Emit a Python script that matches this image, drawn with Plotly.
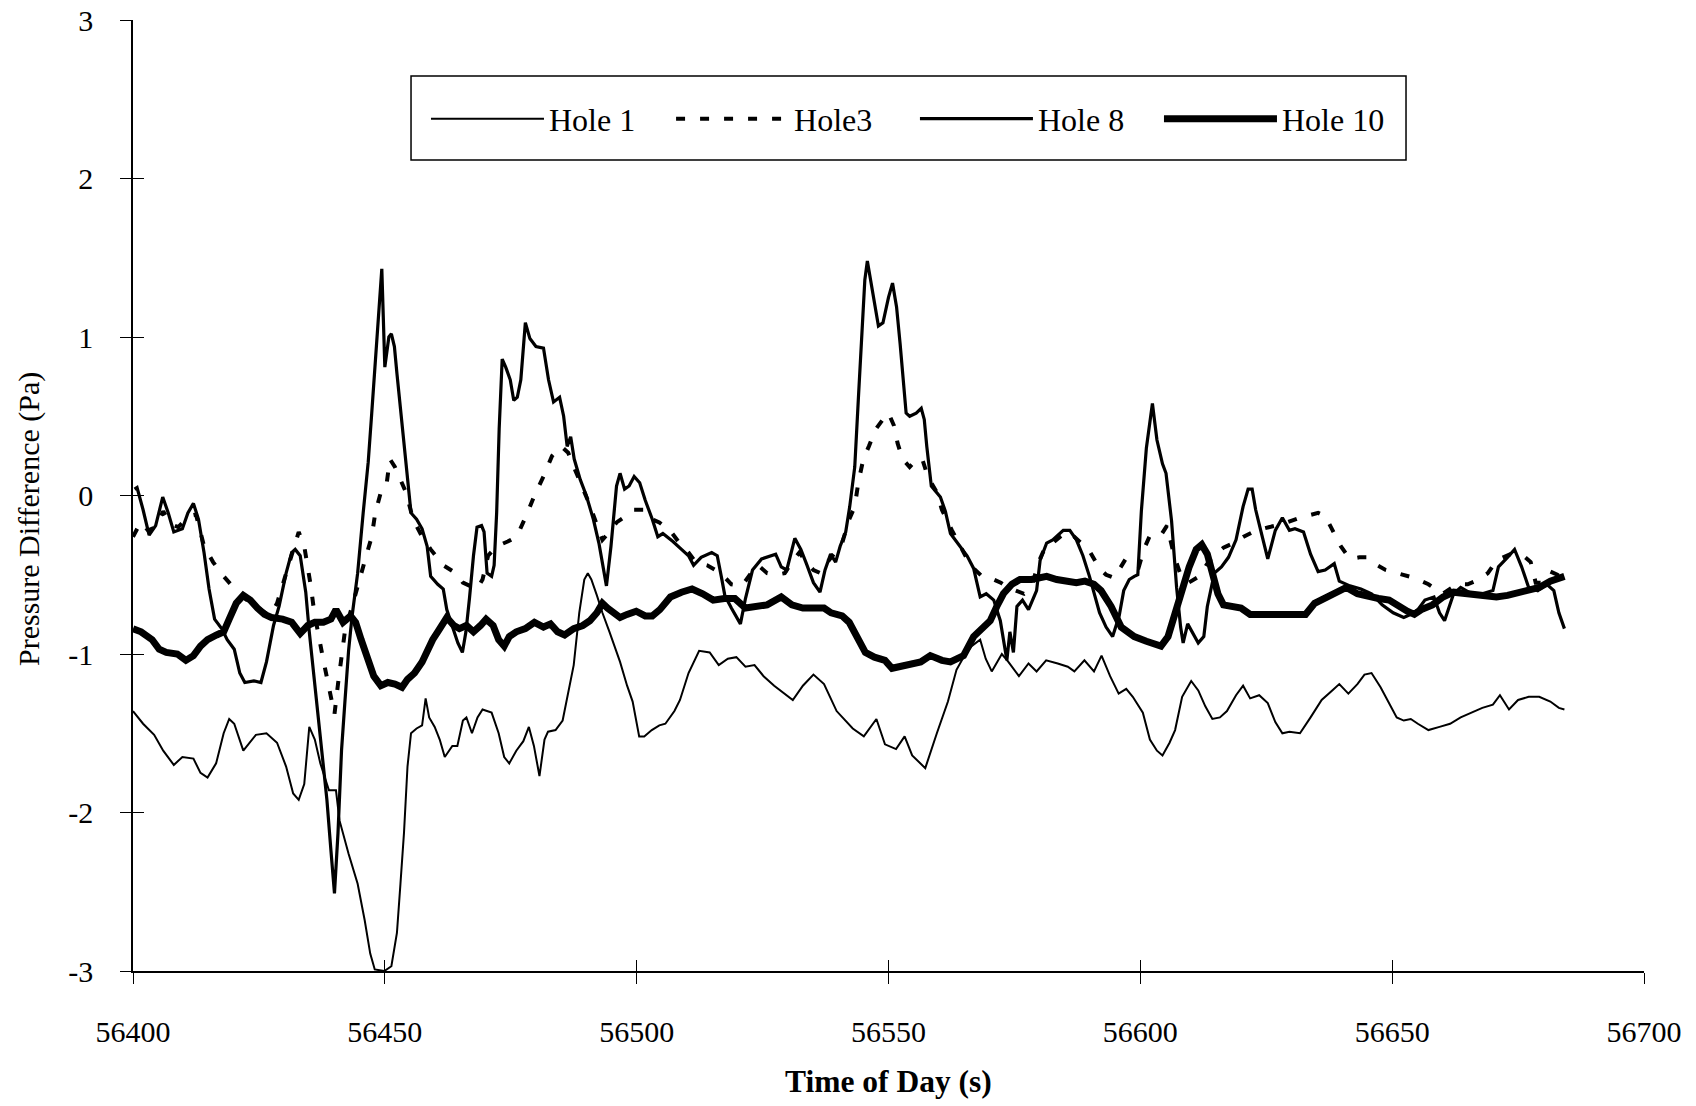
import plotly.graph_objects as go

# ---------------- data ----------------
hole1_t = [56400, 56402, 56404.2, 56406, 56408.1, 56409.8, 56412, 56413.4, 56414.8, 56416.5, 56418, 56419.1,
           56420.1, 56421.9, 56424.4, 56426.5, 56428.6, 56430.4, 56431.8, 56432.9, 56434, 56435, 56436.1, 56437.2,
           56438.2, 56438.9, 56440.3, 56441, 56442.8, 56444.6, 56446, 56447.1, 56448, 56449.9, 56451.3, 56452.4,
           56453.1, 56453.8, 56454.5, 56455.2, 56456.3, 56457.4, 56458.1, 56458.8, 56459.9, 56460.9, 56461.9,
           56463.4, 56464.4, 56465.5, 56466.2, 56467.3, 56468.4, 56469.4, 56471.2, 56472.6, 56473.7, 56474.7,
           56476.1, 56477.5, 56478.6, 56479.6, 56480.7, 56481.7, 56482.4, 56483.9, 56485.3, 56486.6, 56487.5,
           56488.6, 56489.6, 56490.3, 56491, 56492.1, 56493.2, 56494.6, 56495.6, 56496.7, 56498.1, 56499.2,
           56500.5, 56501.5, 56503, 56504.5, 56505.7, 56507.5, 56508.6, 56510.3, 56512.4, 56514.5, 56516.3,
           56518.1, 56519.8, 56521.6, 56523.4, 56525.2, 56527.3, 56529, 56531, 56533, 56535.1, 56537.2, 56539.7,
           56542.9, 56545.1, 56547.6, 56549.3, 56551.5, 56553.2, 56554.7, 56557.3, 56559.6, 56561.8, 56563.5,
           56564.9, 56566.5, 56568.2, 56569.3, 56570.5, 56572.5, 56573.8, 56575.9, 56577.8, 56579.4, 56581.3,
           56583.6, 56585.6, 56586.9, 56588.9, 56590.8, 56592.3, 56594, 56595.7, 56597.2, 56598.5, 56600.5,
           56601.9, 56603.3, 56604.4, 56605.8, 56606.9, 56608.3, 56610.1, 56611.5, 56612.9, 56614.3, 56615.8,
           56617.2, 56619, 56620.4, 56621.8, 56623.6, 56625.3, 56626.8, 56628.2, 56629.6, 56631.7, 56633.8,
           56636, 56638.1, 56639.5, 56641.3, 56643.1, 56644.5, 56645.9, 56647.7, 56649.4, 56650.9, 56652.3,
           56653.7, 56655.1, 56657.2, 56659.4, 56661.5, 56663.6, 56665.8, 56667.9, 56670, 56671.4, 56673.2,
           56675, 56677.1, 56679.2, 56681.4, 56683.1, 56684.2]
hole1_v = [-1.36, -1.44, -1.51, -1.61, -1.70, -1.65, -1.66, -1.75, -1.78, -1.69, -1.50, -1.41,
           -1.44, -1.61, -1.51, -1.50, -1.56, -1.71, -1.88, -1.92, -1.82, -1.46, -1.54, -1.69,
           -1.79, -1.86, -1.86, -2.05, -2.26, -2.45, -2.68, -2.89, -2.99, -3.00, -2.97, -2.76,
           -2.45, -2.13, -1.71, -1.50, -1.47, -1.45, -1.28, -1.40, -1.46, -1.54, -1.65,
           -1.58, -1.58, -1.42, -1.40, -1.50, -1.40, -1.35, -1.37, -1.50, -1.65, -1.69,
           -1.61, -1.55, -1.46, -1.58, -1.77, -1.54, -1.49, -1.48, -1.42, -1.22, -1.07,
           -0.74, -0.53, -0.49, -0.53, -0.63, -0.74, -0.86, -0.95, -1.05, -1.20, -1.30,
           -1.52, -1.52, -1.48, -1.45, -1.44, -1.36, -1.29, -1.12, -0.98, -0.99, -1.07,
           -1.03, -1.02, -1.08, -1.07, -1.14, -1.20, -1.24, -1.29, -1.20, -1.13, -1.19, -1.36,
           -1.47, -1.52, -1.41, -1.57, -1.60, -1.52, -1.64, -1.72, -1.50, -1.30, -1.10,
           -1.02, -0.95, -0.91, -1.03, -1.11, -1.00, -1.05, -1.14, -1.06, -1.11, -1.04,
           -1.06, -1.08, -1.11, -1.04, -1.11, -1.01, -1.14, -1.25, -1.22, -1.27, -1.37,
           -1.54, -1.61, -1.64, -1.56, -1.48, -1.27, -1.17, -1.23, -1.33, -1.41, -1.40,
           -1.36, -1.26, -1.20, -1.28, -1.26, -1.31, -1.43, -1.50, -1.49, -1.50, -1.40,
           -1.29, -1.23, -1.19, -1.25, -1.19, -1.13, -1.12, -1.21, -1.31, -1.40, -1.42,
           -1.41, -1.44, -1.48, -1.46, -1.44, -1.40, -1.37, -1.34, -1.32, -1.26, -1.35,
           -1.29, -1.27, -1.27, -1.30, -1.34, -1.35]

hole3_t = [56400, 56401.5, 56403, 56404.5, 56406, 56407.5, 56409, 56411, 56412.5, 56414.1, 56415.9, 56418,
           56420.5, 56422.2, 56424.5, 56427.2, 56428.6, 56430, 56431.5, 56432.9, 56434, 56434.7, 56435.3,
           56436, 56436.8, 56437.8, 56438.9, 56440, 56440.7, 56441.4, 56442.1, 56443.5, 56444.9, 56446.3,
           56447.4, 56448.1, 56449.2, 56450.3, 56451, 56452, 56453.1, 56454.2, 56455.6, 56457.4, 56459.1,
           56461.6, 56464.1, 56465.5, 56468.3, 56469.4, 56470.5, 56472.2, 56474.4, 56476.2, 56478.3, 56479.7,
           56481.5, 56483.2, 56485, 56486.4, 56487.8, 56488.9, 56490.3, 56491.7, 56493.2, 56494.6, 56496,
           56497.4, 56499.5, 56501.6, 56503.1, 56504.5, 56506.6, 56508.5, 56510.3, 56511.7, 56514, 56516.7,
           56518.8, 56520.9, 56522.7, 56524.1, 56525.9, 56527.7, 56529.4, 56530.8, 56532.3, 56533.7, 56535.1,
           56536.5, 56537.9, 56539.4, 56540.8, 56542.2, 56543.3, 56544, 56545, 56546.1, 56547.5, 56548.9,
           56550, 56551.1, 56551.8, 56552.8, 56554.2, 56555.7, 56556.7, 56557.4, 56558.5, 56559.6, 56560.6,
           56562.6, 56564.2, 56565.6, 56566.9, 56568.9, 56570.9, 56572.3, 56573.7, 56575.5, 56576.9,
           56578.4, 56579.8, 56581.2, 56582.6, 56584.1, 56585.5, 56586.9, 56588.3, 56589.9, 56591.9, 56593.2,
           56594.8, 56596, 56597.1, 56598.2, 56599.7, 56600.7, 56601.8, 56603.9, 56605.3, 56606.7, 56608.1,
           56609.6, 56611.7, 56613.1, 56614.5, 56616.5, 56618.5, 56620.5, 56623, 56625.5, 56628.2, 56631.7,
           56635.3, 56636.7, 56638.1, 56639.8, 56641.6, 56643.5, 56645.2, 56647, 56648.7, 56650.9, 56652.5,
           56654.4, 56657.2, 56660, 56662.9, 56665, 56667.2, 56669, 56670.7, 56673.5, 56676.4, 56677.5,
           56678.5, 56679.5, 56681.4, 56682.8, 56684.2]
hole3_v = [-0.26, -0.17, -0.22, -0.20, -0.10, -0.18, -0.20, -0.13, -0.12, -0.32, -0.42, -0.51,
           -0.60, -0.65, -0.70, -0.76, -0.68, -0.53, -0.36, -0.23, -0.32, -0.44, -0.57,
           -0.74, -0.89, -1.04, -1.21, -1.38, -1.19, -1.00, -0.85, -0.70, -0.53, -0.38,
           -0.26, -0.11, 0.02, 0.06, 0.23, 0.18, 0.10, 0.02, -0.15, -0.26, -0.34,
           -0.44, -0.49, -0.55, -0.59, -0.53, -0.38, -0.32, -0.29, -0.26, -0.11, 0.00,
           0.12, 0.25, 0.31, 0.27, 0.16, 0.08, -0.03, -0.15, -0.28, -0.23, -0.17,
           -0.14, -0.09, -0.09, -0.15, -0.17, -0.22, -0.30, -0.36, -0.42, -0.44, -0.49,
           -0.56, -0.57, -0.49, -0.44, -0.49, -0.50, -0.49, -0.42, -0.36, -0.42, -0.47,
           -0.49, -0.42, -0.36, -0.30, -0.15, -0.07, 0.08, 0.23, 0.31, 0.42, 0.48,
           0.52, 0.44, 0.33, 0.23, 0.18, 0.23, 0.23, 0.16, 0.08, 0.02, -0.09,
           -0.22, -0.32, -0.40, -0.46, -0.52, -0.53, -0.55, -0.58, -0.60, -0.62,
           -0.58, -0.42, -0.32, -0.30, -0.26, -0.23, -0.26, -0.30, -0.35, -0.46, -0.50,
           -0.52, -0.46, -0.40, -0.42, -0.45, -0.34, -0.26, -0.26, -0.19, -0.38, -0.51,
           -0.55, -0.51, -0.44, -0.38, -0.33, -0.30, -0.26, -0.22, -0.20, -0.18, -0.14,
           -0.11, -0.13, -0.22, -0.32, -0.40, -0.39, -0.39, -0.44, -0.47, -0.49, -0.50,
           -0.52, -0.56, -0.62, -0.56, -0.56, -0.53, -0.49, -0.41, -0.37, -0.39, -0.42,
           -0.55, -0.55, -0.48, -0.50, -0.53]

hole8_t = [56400.3, 56400.8, 56402, 56403.2, 56404.5, 56405.9, 56407, 56408.1, 56409.8, 56410.9, 56412, 56413,
           56414.1, 56415.1, 56416.2, 56417.6, 56418.7, 56420.1, 56421.2, 56422.2, 56424, 56425.4, 56426.5,
           56427.9, 56429, 56430.4, 56431.5, 56432.2, 56433.2, 56434.3, 56435, 56436.4, 56437.5, 56438.5,
           56439.3, 56440, 56440.7, 56441.4, 56442.1, 56442.8, 56443.5, 56444.6, 56445.7, 56446.7, 56447.4,
           56448.1, 56448.8, 56449.4, 56450, 56450.8, 56451.3, 56451.9, 56452.4, 56453.1, 56453.8, 56454.5,
           56455.2, 56456.3, 56457.4, 56458.4, 56459.1, 56460.5, 56461.6, 56462.3, 56463.4, 56464.5, 56465.4,
           56466.1, 56466.8, 56467.6, 56468.3, 56469.2, 56469.7, 56470.3, 56471.2, 56471.7, 56472.2, 56472.7,
           56473.3, 56474, 56474.9, 56475.6, 56476.3, 56477, 56477.9, 56478.8, 56480, 56481.5, 56482.5,
           56483.5, 56484.7, 56485.5, 56486.2, 56486.9, 56487.6, 56488.8, 56490, 56491.4, 56492.5, 56493.3,
           56494, 56494.9, 56496, 56496.7, 56497.6, 56498.5, 56499.5, 56500.6, 56501.7, 56503.1, 56504.2,
           56505.2, 56507.2, 56508.9, 56510.3, 56511.3, 56512.8, 56514.9, 56516, 56516.8, 56517.5, 56518.8,
           56520.6, 56521.6, 56523, 56524.8, 56526.6, 56527.6, 56528.7, 56529.8, 56531.4, 56532.6, 56533.7,
           56535.1, 56536.4, 56537.4, 56538.5, 56539.5, 56540.4, 56541.5, 56542.3, 56543.3, 56544, 56544.7,
           56545.3, 56545.8, 56547.2, 56548, 56548.9, 56550, 56550.8, 56551.6, 56552.3, 56553, 56553.5,
           56554.2, 56555.5, 56556.5, 56557.1, 56557.6, 56558.5, 56560.3, 56561.3, 56562.3, 56564.3,
           56565.6, 56566.9, 56568.2, 56569.4, 56570.9, 56572.2, 56573.5,
           56574.1, 56574.8, 56575.5, 56576.6, 56577.8, 56579.4, 56580.1, 56581.4, 56582.6, 56584.7, 56586,
           56587.3, 56588.6, 56589.9, 56591.9, 56593.2, 56594.5, 56595.8, 56596.7, 56597.8, 56598.8,
           56599.5, 56600.2, 56601.2, 56602.4, 56603.3, 56604.4, 56605.1, 56606.2, 56607.2, 56608, 56608.5,
           56609.4, 56610.4, 56611.5, 56612.6, 56613.3, 56614.7, 56616.1, 56617.5, 56619, 56620.4, 56621.4,
           56622.2, 56622.9, 56623.9, 56625.3, 56626.8, 56628.2, 56629.6, 56630.7, 56632.4, 56633.8, 56635.3,
           56636.7, 56638.5, 56639.5, 56641.6, 56643.8, 56645.9, 56648, 56650.2, 56652.3, 56653.7, 56655.1,
           56656.5, 56658.3, 56659.4, 56660.4, 56662.2, 56663.6, 56665.8, 56667.9, 56670, 56671.1, 56672.9,
           56674.3, 56675.7, 56677.1, 56678.9, 56680.7, 56682.1, 56683.1, 56684.2]
hole8_v = [0.04, 0.05, -0.09, -0.25, -0.19, -0.01, -0.11, -0.23, -0.21, -0.11, -0.05, -0.15,
           -0.36, -0.59, -0.78, -0.84, -0.91, -0.97, -1.12, -1.18, -1.17, -1.18, -1.05,
           -0.82, -0.70, -0.49, -0.36, -0.34, -0.38, -0.61, -0.86, -1.29, -1.61, -1.92,
           -2.24, -2.51, -2.13, -1.61, -1.29, -0.98, -0.76, -0.49, -0.11, 0.21, 0.52,
           0.83, 1.15, 1.43, 0.81, 1.00, 1.02, 0.94, 0.77, 0.56, 0.35, 0.14,
           -0.11, -0.15, -0.21, -0.32, -0.51, -0.56, -0.59, -0.72, -0.82, -0.93, -0.99,
           -0.86, -0.65, -0.38, -0.20, -0.19, -0.23, -0.49, -0.51, -0.44, -0.11, 0.42,
           0.86, 0.81, 0.73, 0.60, 0.62, 0.73, 1.09, 0.99, 0.94, 0.93, 0.73,
           0.59, 0.62, 0.50, 0.31, 0.37, 0.23, 0.10, 0.00, -0.15, -0.30, -0.44,
           -0.57, -0.32, 0.06, 0.14, 0.04, 0.06, 0.12, 0.08, -0.03, -0.15, -0.26,
           -0.24, -0.29, -0.34, -0.38, -0.44, -0.39, -0.36, -0.38, -0.51, -0.63, -0.71,
           -0.81, -0.65, -0.47, -0.40, -0.38, -0.37, -0.45, -0.47, -0.27, -0.34, -0.43,
           -0.55, -0.61, -0.47, -0.37, -0.42, -0.32, -0.23, -0.07, 0.18, 0.60, 1.04,
           1.36, 1.48, 1.23, 1.07, 1.09, 1.25, 1.34, 1.19, 0.96, 0.73, 0.52,
           0.50, 0.52, 0.55, 0.48, 0.31, 0.06, -0.01, -0.10, -0.24, -0.32,
           -0.38, -0.46, -0.64, -0.62, -0.66, -0.79, -1.04,
           -0.86, -0.99, -0.70, -0.66, -0.72, -0.60, -0.41, -0.30, -0.28, -0.22, -0.22,
           -0.28, -0.38, -0.51, -0.74, -0.83, -0.89, -0.76, -0.60, -0.53, -0.51,
           -0.50, -0.10, 0.30, 0.58, 0.35, 0.20, 0.14, -0.16, -0.58, -0.83, -0.93,
           -0.81, -0.87, -0.93, -0.89, -0.70, -0.49, -0.45, -0.39, -0.28, -0.07, 0.04,
           0.04, -0.09, -0.22, -0.40, -0.22, -0.14, -0.22, -0.21, -0.23, -0.37, -0.48,
           -0.47, -0.43, -0.54, -0.57, -0.59, -0.62, -0.69, -0.74, -0.77, -0.75, -0.72,
           -0.66, -0.64, -0.74, -0.79, -0.62, -0.58, -0.62, -0.62, -0.60, -0.45, -0.39,
           -0.34, -0.45, -0.58, -0.60, -0.56, -0.60, -0.74, -0.84]

hole10_t = [56400, 56401.6, 56403.8, 56405.2, 56406.6, 56408.8, 56410.5, 56412, 56413.4, 56414.8, 56416.6,
            56418, 56419.1, 56420.5, 56421.9, 56423.3, 56424.7, 56426.1, 56427.5, 56429.7, 56431.5, 56433.2,
            56434.7, 56436.1, 56437.8, 56439.3, 56440.3, 56441.7, 56443.2, 56444.2, 56445.3, 56446.4, 56447.8,
            56449.2, 56450.6, 56452, 56453.4, 56454.5, 56455.9, 56457.4, 56458.4, 56459.5, 56460.5, 56461.6,
            56462.3, 56463.7, 56464.8, 56466.2, 56467.6, 56469, 56470.1, 56471.5, 56472.6, 56473.7, 56474.7,
            56476.1, 56477.9, 56479.7, 56481.5, 56482.9, 56484.3, 56485.7, 56487.5, 56489.3, 56490.7, 56492.1,
            56493.2, 56494.2, 56495.3, 56496.7, 56498.1, 56499.9, 56501.7, 56503.1, 56504.6, 56506.7, 56508.9,
            56511, 56513.1, 56515.2, 56517.4, 56519.5, 56521.6, 56523.7, 56525.9, 56528.7, 56530.8, 56533,
            56535.1, 56537.2, 56538.6, 56540.8, 56542.2, 56544, 56545.4, 56547.2, 56549.3, 56550.7, 56552.1,
            56554.2, 56556.4, 56558.3, 56560.6, 56562.3, 56564.9, 56566.9, 56568.4, 56570.2, 56571.5,
            56572.8, 56574.5, 56576.1, 56578.4, 56579.8, 56581.4, 56583.4, 56585.5, 56587.3, 56589, 56590.8,
            56592.2, 56594.2, 56596.2, 56598.8, 56601.2, 56602.6, 56604.1, 56605.5, 56606.9, 56608.3,
            56609.7, 56611.1, 56612.2, 56613.3, 56614.3, 56615.4, 56616.5, 56618.2, 56620, 56621.8, 56625,
            56628.5, 56632.8, 56634.6, 56636.7, 56638.8, 56640.9, 56643.1, 56645.2, 56647.3, 56649.4, 56651.6,
            56653, 56654.4, 56655.8, 56658, 56660.1, 56662.2, 56664.3, 56666.5, 56668.6, 56670.7, 56672.9,
            56675, 56677.1, 56679.2, 56681.4, 56684.2]
hole10_v = [-0.84, -0.86, -0.91, -0.97, -0.99, -1.00, -1.04, -1.01, -0.95, -0.91, -0.88,
            -0.86, -0.78, -0.68, -0.63, -0.66, -0.71, -0.75, -0.77, -0.78, -0.80, -0.87,
            -0.82, -0.80, -0.80, -0.78, -0.72, -0.80, -0.76, -0.80, -0.91, -1.01, -1.14,
            -1.20, -1.18, -1.19, -1.21, -1.16, -1.12, -1.05, -0.97, -0.91, -0.86, -0.80,
            -0.77, -0.82, -0.84, -0.82, -0.86, -0.82, -0.78, -0.82, -0.91, -0.95, -0.89,
            -0.86, -0.84, -0.80, -0.83, -0.81, -0.86, -0.88, -0.84, -0.82, -0.79, -0.74,
            -0.68, -0.71, -0.74, -0.77, -0.75, -0.73, -0.76, -0.76, -0.72, -0.64, -0.61,
            -0.59, -0.62, -0.66, -0.65, -0.65, -0.71, -0.70, -0.69, -0.64, -0.69, -0.71,
            -0.71, -0.71, -0.74, -0.76, -0.80, -0.91, -0.99, -1.02, -1.04, -1.09, -1.08,
            -1.07, -1.05, -1.01, -1.04, -1.05, -1.01, -0.89, -0.84, -0.79, -0.70,
            -0.62, -0.56, -0.53, -0.53, -0.52, -0.51, -0.53, -0.54, -0.55, -0.54, -0.56,
            -0.60, -0.70, -0.83, -0.89, -0.92, -0.94, -0.95, -0.89, -0.74, -0.60,
            -0.45, -0.34, -0.31, -0.37, -0.48, -0.62, -0.69, -0.70, -0.71, -0.75, -0.75,
            -0.75, -0.75, -0.68, -0.65, -0.62, -0.58, -0.62, -0.64, -0.65, -0.66, -0.71,
            -0.73, -0.75, -0.72, -0.69, -0.64, -0.61, -0.62, -0.63, -0.63, -0.64, -0.63,
            -0.61, -0.60, -0.58, -0.54, -0.51]

series_names = ["Hole 1", "Hole3", "Hole 8", "Hole 10"]

x_tick_vals = [56400, 56450, 56500, 56550, 56600, 56650, 56700]
x_tick_text = ["56400", "56450", "56500", "56550", "56600", "56650", "56700"]
y_tick_vals = [-3, -2, -1, 0, 1, 2, 3]
y_tick_text = ["-3", "-2", "-1", "0", "1", "2", "3"]

x_title = "Time of Day (s)"
y_title = "Pressure Difference (Pa)"

# ---------------- figure ----------------
FONT = "Liberation Serif"
fig = go.Figure()

styles = [
    dict(color="black", width=2.0),
    dict(color="black", width=4.0, dash="9px,15px"),
    dict(color="black", width=3.2),
    dict(color="black", width=7.0),
]
legend_ids = ["legend", "legend2", "legend3", "legend4"]
legend_x = [0.1939, 0.3561, 0.5175, 0.6790]
data = [(hole1_t, hole1_v), (hole3_t, hole3_v), (hole8_t, hole8_v), (hole10_t, hole10_v)]
for name, (t, v), st, lg in zip(series_names, data, styles, legend_ids):
    fig.add_trace(go.Scatter(x=t, y=v, mode="lines", name=name, line=st, legend=lg))

# invisible trace to activate the overlay axes (crossing tick marks)
fig.add_trace(go.Scatter(x=[None], y=[None], xaxis="x2", yaxis="y2", showlegend=False,
                         hoverinfo="skip"))

axis_common = dict(showgrid=False, zeroline=False, tickcolor="black", tickwidth=1.3, ticklen=11,
                   automargin=False)

legend_common = dict(orientation="h", y=0.896, xanchor="left", yanchor="middle",
                     bgcolor="rgba(0,0,0,0)", borderwidth=0, itemwidth=113,
                     font=dict(family=FONT, size=32))
legends = {lg: dict(x=lx, **legend_common) for lg, lx in zip(legend_ids, legend_x)}

fig.update_layout(
    width=1696, height=1106,
    margin=dict(l=133, r=52, t=20, b=135, autoexpand=False),
    paper_bgcolor="white", plot_bgcolor="white",
    font=dict(family=FONT, color="black", size=30),
    showlegend=True,
    xaxis=dict(range=[56400, 56700], tickmode="array", tickvals=x_tick_vals, ticktext=x_tick_text,
               ticks="outside", showline=True, linecolor="black", linewidth=1.5,
               tickfont=dict(family=FONT, size=30), ticklabelstandoff=22, **axis_common),
    yaxis=dict(range=[-3, 3], tickmode="array", tickvals=y_tick_vals, ticktext=y_tick_text,
               ticks="outside", showline=True, linecolor="black", linewidth=1.5,
               tickfont=dict(family=FONT, size=30), ticklabelstandoff=21, **axis_common),
    xaxis2=dict(range=[56400, 56700], overlaying="x", anchor="y", side="bottom",
                tickmode="array", tickvals=x_tick_vals, ticks="inside", showticklabels=False,
                showline=False, **axis_common),
    yaxis2=dict(range=[-3, 3], overlaying="y", anchor="x", side="left",
                tickmode="array", tickvals=y_tick_vals, ticks="inside", showticklabels=False,
                showline=False, **axis_common),
    shapes=[dict(type="rect", xref="paper", yref="paper", x0=0.184, x1=0.8425, y0=0.8528, y1=0.9411,
                 line=dict(color="black", width=1.5), fillcolor="rgba(0,0,0,0)", layer="above")],
    annotations=[
        dict(text="<b>" + x_title + "</b>", xref="paper", yref="paper", x=0.5, y=-0.1167,
             xanchor="center", yanchor="middle", showarrow=False, font=dict(family=FONT, size=31.5)),
        dict(text=y_title, xref="paper", yref="paper", x=-0.0688, y=0.4753, textangle=-90,
             xanchor="center", yanchor="middle", showarrow=False, font=dict(family=FONT, size=30)),
    ],
)
fig.update_layout(**legends)

fig.write_html("out.html")
